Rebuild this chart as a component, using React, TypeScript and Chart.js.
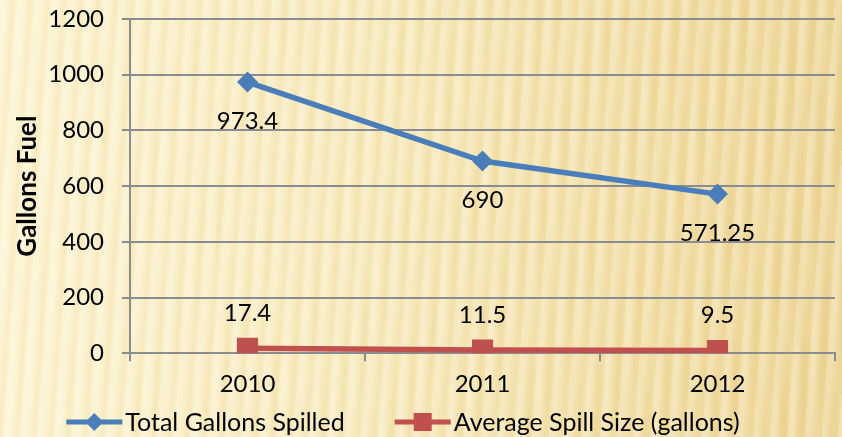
import React, { useEffect, useRef } from "react";
import { Chart, registerables } from "chart.js";

Chart.register(...registerables);

const categories = ["2010", "2011", "2012"];
const totalGallons = [973.4, 690, 571.25];
const avgSpill = [17.4, 11.5, 9.5];
const totalLabels = ["973.4", "690", "571.25"];
const avgLabels = ["17.4", "11.5", "9.5"];
const seriesNames = ["Total Gallons Spilled", "Average Spill Size (gallons)"];
const yAxisTitle = "Gallons Fuel";

const BLUE = "#4a7ebb";
const RED = "#c0504d";
const GRID = "#8a8c90";
const FONT = "Lato";
const TICK_SIZE = 24;

const dataLabelPlugin = {
  id: "dataLabelPlugin",
  afterDatasetsDraw(chart: any) {
    const ctx = chart.ctx;
    ctx.save();
    ctx.font = `${TICK_SIZE}px ${FONT}`;
    ctx.fillStyle = "#000";
    ctx.textAlign = "center";
    ctx.textBaseline = "middle";
    chart.data.datasets.forEach((_ds: any, i: number) => {
      const meta = chart.getDatasetMeta(i);
      const labels = i === 0 ? totalLabels : avgLabels;
      const off = i === 0 ? 39 : -35;
      meta.data.forEach((pt: any, j: number) => {
        ctx.fillText(labels[j], pt.x, pt.y + off);
      });
    });
    ctx.restore();
  },
};

const customLegendPlugin = {
  id: "customLegendPlugin",
  afterDraw(chart: any) {
    const ctx = chart.ctx;
    const lineW = 56;
    const gapText = 3;
    const gapItems = 50;
    ctx.save();
    ctx.font = `25px ${FONT}`;
    ctx.textBaseline = "middle";
    ctx.textAlign = "left";
    const widths = seriesNames.map((n) => ctx.measureText(n).width);
    const total = widths.reduce((a, w) => a + lineW + gapText + w, 0) + gapItems;
    let x = chart.width / 2 - 18 - total / 2;
    const cy = chart.height - 15;
    seriesNames.forEach((name, i) => {
      const color = i === 0 ? BLUE : RED;
      ctx.fillStyle = color;
      ctx.fillRect(x, cy - 2.5, lineW, 5);
      const cx = x + lineW / 2;
      if (i === 0) {
        ctx.beginPath();
        ctx.moveTo(cx, cy - 9);
        ctx.lineTo(cx + 9, cy);
        ctx.lineTo(cx, cy + 9);
        ctx.lineTo(cx - 9, cy);
        ctx.closePath();
        ctx.fill();
      } else {
        ctx.fillRect(cx - 9, cy - 9, 18, 18);
      }
      ctx.fillStyle = "#000";
      ctx.fillText(name, x + lineW + gapText, cy + 1);
      x += lineW + gapText + widths[i] + gapItems;
    });
    ctx.restore();
  },
};

export default function App() {
  const canvasRef = useRef<HTMLCanvasElement | null>(null);

  useEffect(() => {
    document.body.style.margin = "0";
    const canvas = canvasRef.current;
    if (!canvas) return;
    const chart = new Chart(canvas, {
      type: "line",
      data: {
        labels: categories,
        datasets: [
          {
            label: seriesNames[0],
            data: totalGallons,
            borderColor: BLUE,
            backgroundColor: BLUE,
            borderWidth: 5.5,
            pointStyle: "rectRot",
            pointRadius: 10.5,
            pointBorderWidth: 0,
            pointBackgroundColor: BLUE,
            tension: 0,
          },
          {
            label: seriesNames[1],
            data: avgSpill,
            borderColor: RED,
            backgroundColor: RED,
            borderWidth: 5.5,
            pointStyle: "rect",
            pointRadius: 15,
            pointBorderWidth: 0,
            pointBackgroundColor: RED,
            tension: 0,
          },
        ],
      },
      options: {
        animation: false,
        responsive: false,
        maintainAspectRatio: false,
        layout: { autoPadding: false, padding: { top: 19, right: 7, left: 0, bottom: 29 } },
        plugins: {
          tooltip: { enabled: false },
          legend: { display: false },
        },
        scales: {
          x: {
            offset: true,
            afterFit: (scale: any) => {
              scale.paddingLeft = 0;
              scale.paddingRight = 0;
            },
            grid: {
              display: true,
              drawOnChartArea: false,
              drawTicks: true,
              tickLength: 8,
              color: GRID,
              lineWidth: 2,
              offset: true,
            },
            border: { display: true, color: GRID, width: 2 },
            ticks: {
              color: "#000",
              font: { family: FONT, size: TICK_SIZE },
              padding: 9,
            },
          },
          y: {
            min: 0,
            max: 1200,
            afterFit: (scale: any) => {
              scale.width = 130;
              scale.paddingTop = 0;
              scale.paddingBottom = 0;
            },
            grid: {
              color: GRID,
              lineWidth: 2,
              tickLength: 8,
            },
            border: { display: true, color: GRID, width: 2 },
            ticks: {
              stepSize: 200,
              color: "#000",
              font: { family: FONT, size: TICK_SIZE },
              padding: 18,
              callback: (v: any) => String(v),
            },
            title: {
              display: true,
              text: yAxisTitle,
              color: "#000",
              font: { family: FONT, size: 26, weight: "bold" },
              padding: { top: 12, bottom: 0 },
            },
          },
        },
      },
      plugins: [dataLabelPlugin, customLegendPlugin],
    });
    return () => chart.destroy();
  }, []);

  const bg = [
    "repeating-linear-gradient(94deg, rgba(255,255,255,0.24) 0px, rgba(255,255,255,0.24) 5px, rgba(255,255,255,0) 9px, rgba(210,180,90,0.10) 13px, rgba(255,255,255,0) 17px)",
    "repeating-linear-gradient(88deg, rgba(255,255,255,0) 0px, rgba(255,250,230,0.2) 11px, rgba(255,255,255,0) 23px)",
    "linear-gradient(to right, #fcf2cd 0%, #f6e7b5 45%, #efd99a 80%, #ebd390 100%)",
  ].join(", ");

  return (
    <div style={{ width: 842, height: 437, background: bg, position: "relative", overflow: "hidden" }}>
      <canvas ref={canvasRef} width={842} height={437} style={{ display: "block" }} />
    </div>
  );
}
